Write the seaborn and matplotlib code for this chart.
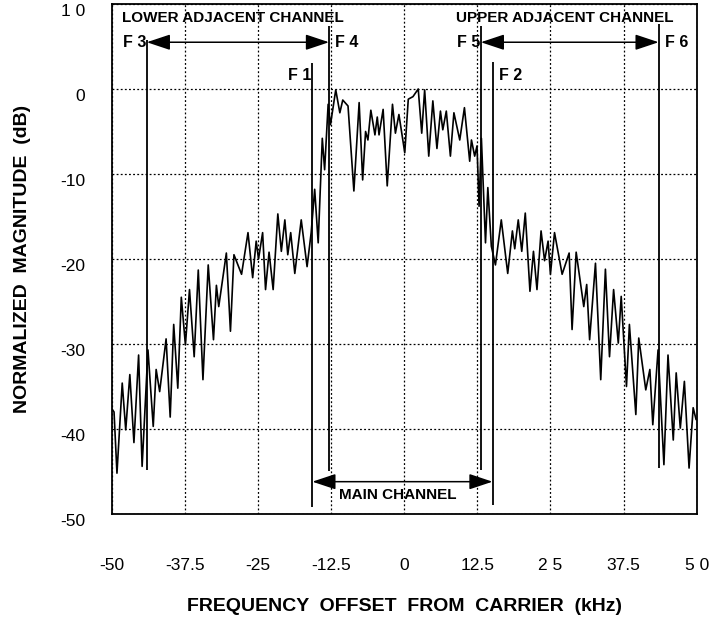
import matplotlib
matplotlib.use("Agg")
import matplotlib.pyplot as plt
import matplotlib.transforms as mtransforms
import pandas as pd
import seaborn as sns

# ---------------- data ----------------
freq_khz = [
    -49.9, -49.6, -49.1, -48.2, -47.6, -46.9, -46.2, -45.4, -44.8, -43.8,
    -42.9, -42.4, -41.8, -40.7, -40.0, -39.4, -38.7, -38.1, -37.4, -36.7,
    -35.9, -35.2, -34.4, -33.5, -32.6, -32.1, -31.7, -30.4, -29.7, -29.1,
    -27.8, -26.7, -25.9, -25.3, -24.9, -24.2, -23.7, -23.1, -22.4, -21.6,
    -21.0, -20.4, -19.9, -19.4, -18.7, -17.6, -16.6, -15.9, -15.3, -14.7,
    -14.0, -13.6, -13.0, -12.6, -11.7, -11.0, -10.5, -9.6, -8.6, -7.7,
    -7.1, -6.6, -6.2, -5.7, -5.0, -4.6, -4.3, -3.6, -2.9, -2.0,
    -1.5, -0.9, 0.1, 0.7, 1.5, 2.4, 3.0, 3.5, 4.2, 4.9,
    5.6, 6.2, 6.6, 7.2, 7.9, 8.5, 9.5, 10.3, 11.2, 11.5,
    12.05, 12.45, 12.8, 13.2, 13.9, 14.3, 14.9, 15.6, 16.6, 17.7,
    18.5, 18.9, 19.5, 20.1, 20.7, 21.5, 22.1, 22.7, 23.4, 24.0,
    24.6, 25.0, 25.7, 27.0, 28.2, 28.7, 29.4, 30.7, 31.2, 31.7,
    32.7, 33.6, 34.4, 35.1, 35.8, 36.6, 37.1, 38.0, 38.5, 39.6,
    40.1, 41.3, 42.0, 42.5, 43.4, 44.4, 45.1, 46.0, 46.5, 47.2,
    47.9, 48.7, 49.4, 49.9,
]
mag_db = [
    -37.7, -38.0, -45.2, -34.6, -40.1, -33.6, -41.6, -31.3, -44.4, -30.7,
    -39.7, -33.0, -35.6, -29.4, -38.6, -27.7, -35.2, -24.5, -30.1, -23.6,
    -31.5, -21.3, -34.2, -20.7, -29.5, -23.1, -25.6, -19.3, -28.5, -19.5,
    -21.8, -16.9, -22.2, -17.9, -20.0, -16.9, -23.6, -19.2, -23.6, -14.7,
    -19.1, -15.4, -19.5, -16.9, -21.7, -15.4, -20.9, -16.9, -11.8, -18.1,
    -5.8, -9.5, -1.8, -4.2, -0.1, -2.8, -1.3, -2.0, -12.0, -1.6,
    -10.7, -5.0, -6.0, -2.5, -5.4, -3.3, -5.4, -2.4, -11.4, -1.8,
    -5.2, -3.0, -7.5, -1.2, -0.9, 0.0, -5.2, -0.1, -7.9, -1.4,
    -7.0, -2.6, -4.8, -2.6, -7.9, -2.8, -6.0, -2.2, -8.5, -6.0,
    -7.9, -6.7, -13.8, -5.8, -18.1, -11.6, -18.5, -20.7, -15.4, -21.7,
    -16.7, -18.8, -15.4, -19.1, -14.6, -23.8, -19.1, -23.6, -16.7, -20.2,
    -17.9, -21.8, -16.9, -21.8, -19.3, -28.3, -19.2, -25.6, -23.0, -29.5,
    -20.5, -34.2, -21.2, -31.5, -23.6, -29.9, -24.4, -35.0, -27.7, -38.3,
    -29.3, -35.4, -33.0, -39.5, -30.7, -44.2, -31.3, -41.3, -33.4, -39.9,
    -34.4, -44.6, -37.5, -38.9,
]

marker_labels = ["F 1", "F 2", "F 3", "F 4", "F 5", "F 6"]
marker_freqs = [-15.7, 15.1, -44.0, -12.85, 13.1, 43.5]
marker_tops = [3.1, 3.2, 5.8, 7.4, 7.4, 7.6]
marker_bottoms = [-49.2, -48.9, -44.8, -44.9, -44.8, -44.6]
marker_label_levels = [1.6, 1.6, 5.5, 5.5, 5.5, 5.5]
marker_label_side = ["left", "right", "left", "right", "left", "right"]

channel_names = ["LOWER ADJACENT CHANNEL", "UPPER ADJACENT CHANNEL", "MAIN CHANNEL"]
channel_edges = [("F 3", "F 4"), ("F 5", "F 6"), ("F 1", "F 2")]
channel_arrow_levels = [5.5, 5.5, -46.2]
channel_label_levels = [8.4, 8.4, -47.8]

x_ticks = [-50, -37.5, -25, -12.5, 0, 12.5, 25, 37.5, 50]
x_tick_labels = ["-50", "-37.5", "-25", "-12.5", "0", "12.5", "2 5", "37.5", "5 0"]
y_ticks = [-50, -40, -30, -20, -10, 0, 10]
y_tick_labels = ["-50", "-40", "-30", "-20", "-10", "0", "1 0"]

# ---------------- styling ----------------
sns.set_theme(style="white")
plt.rcParams["font.family"] = ["Liberation Sans", "DejaVu Sans"]

fig, ax = plt.subplots(figsize=(7.16, 6.23), dpi=100)
fig.subplots_adjust(left=0.156, right=0.973, bottom=0.175, top=0.9936)

df = pd.DataFrame({"freq": freq_khz, "mag": mag_db})
sns.lineplot(data=df, x="freq", y="mag", ax=ax, color="black", linewidth=1.2,
             estimator=None, sort=False, zorder=3)

ax.set_xlim(-50, 50)
ax.set_ylim(-50, 10)
ax.set_xticks(x_ticks)
ax.set_xticklabels(x_tick_labels, fontsize=12.5)
ax.set_yticks(y_ticks)
ax.set_yticklabels(y_tick_labels, fontsize=12.5)
ax.tick_params(axis="x", length=0, pad=32, colors="black")
ax.tick_params(axis="y", length=0, pad=19, colors="black")
ax.grid(True, color="black", linestyle=(0, (1.5, 1.8)), linewidth=0.9)
for sp in ax.spines.values():
    sp.set_color("black")
    sp.set_linewidth(1.3)

# y tick labels sit slightly below their grid lines in the reference
shift = mtransforms.ScaledTranslation(0, -4.5 / 72, fig.dpi_scale_trans)
for tick in ax.yaxis.get_major_ticks():
    tick.label1.set_transform(tick.label1.get_transform() + shift)

ax.set_xlabel("FREQUENCY  OFFSET  FROM  CARRIER  (kHz)", fontsize=14,
              fontweight="bold", color="black")
ax.set_ylabel("NORMALIZED  MAGNITUDE  (dB)", fontsize=14,
              fontweight="bold", color="black")
ax.xaxis.set_label_coords(0.5, -0.165)
ax.yaxis.set_label_coords(-0.138, 0.5)

# marker lines
ax.vlines(marker_freqs, marker_bottoms, marker_tops, colors="black",
          linewidth=1.3, zorder=4)
pos = dict(zip(marker_labels, marker_freqs))
for lab, f, lvl, side in zip(marker_labels, marker_freqs,
                             marker_label_levels, marker_label_side):
    if side == "left":
        ax.annotate(lab, (f, lvl), xytext=(-0.5, 0), textcoords="offset points",
                    ha="right", va="center", fontsize=11.5, fontweight="bold",
                    color="black", zorder=5)
    else:
        ax.annotate(lab, (f, lvl), xytext=(4.5, 0), textcoords="offset points",
                    ha="left", va="center", fontsize=11.5, fontweight="bold",
                    color="black", zorder=5)

# channel arrows and names
for name, (a, b), alvl, tlvl in zip(channel_names, channel_edges,
                                    channel_arrow_levels, channel_label_levels):
    fa, fb = pos[a], pos[b]
    ax.annotate("", xy=(fb, alvl), xytext=(fa, alvl),
                arrowprops=dict(arrowstyle="<|-|>,head_length=1.2,head_width=0.4",
                                mutation_scale=12, color="black", lw=1.1,
                                shrinkA=0, shrinkB=0), zorder=5)
    ax.text((fa + fb) / 2 - 0.8, tlvl, name, ha="center", va="center",
            fontsize=11, fontweight="bold", color="black", zorder=5)

fig.savefig("out.png", dpi=100)
